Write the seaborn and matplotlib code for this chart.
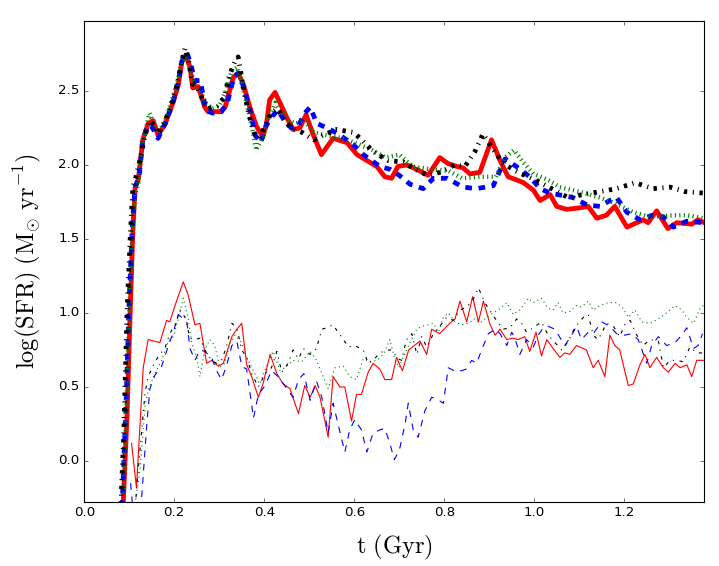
import matplotlib
matplotlib.use("Agg")
import matplotlib.pyplot as plt
import seaborn as sns
import numpy as np

# ---------------- data ----------------
t_red_thick = [0.085, 0.095, 0.102, 0.108, 0.113, 0.120, 0.130, 0.142, 0.153, 0.164, 0.180, 0.197, 0.209, 0.217, 0.226, 0.235, 0.241, 0.253, 0.268, 0.275, 0.302, 0.313, 0.331, 0.342, 0.353, 0.368, 0.383, 0.397, 0.405, 0.412, 0.424, 0.435, 0.450, 0.464, 0.479, 0.493, 0.508, 0.527, 0.553, 0.584, 0.606, 0.628, 0.650, 0.668, 0.683, 0.697, 0.717, 0.739, 0.764, 0.790, 0.808, 0.828, 0.842, 0.857, 0.879, 0.905, 0.924, 0.942, 0.960, 0.976, 0.998, 1.013, 1.035, 1.050, 1.072, 1.100, 1.120, 1.139, 1.160, 1.179, 1.206, 1.228, 1.242, 1.253, 1.272, 1.297, 1.317, 1.350, 1.364, 1.378]
v_red_thick = [-0.40, 0.30, 1.00, 1.55, 1.85, 1.90, 2.17, 2.28, 2.30, 2.20, 2.28, 2.42, 2.54, 2.70, 2.74, 2.66, 2.52, 2.53, 2.39, 2.36, 2.36, 2.39, 2.59, 2.62, 2.55, 2.39, 2.26, 2.19, 2.28, 2.44, 2.49, 2.42, 2.32, 2.24, 2.25, 2.34, 2.21, 2.07, 2.18, 2.15, 2.07, 2.03, 1.99, 1.92, 1.91, 1.99, 2.00, 1.97, 1.93, 2.05, 2.01, 1.99, 1.98, 1.94, 1.95, 2.17, 2.03, 1.92, 1.90, 1.88, 1.83, 1.76, 1.80, 1.72, 1.70, 1.71, 1.72, 1.64, 1.66, 1.72, 1.58, 1.61, 1.63, 1.61, 1.69, 1.57, 1.61, 1.60, 1.63, 1.61]

t_blue_thick = [0.083, 0.093, 0.100, 0.107, 0.113, 0.122, 0.130, 0.142, 0.150, 0.164, 0.180, 0.197, 0.209, 0.217, 0.228, 0.237, 0.245, 0.258, 0.270, 0.285, 0.305, 0.318, 0.333, 0.343, 0.355, 0.368, 0.380, 0.392, 0.405, 0.418, 0.430, 0.445, 0.460, 0.475, 0.490, 0.502, 0.517, 0.540, 0.564, 0.597, 0.620, 0.657, 0.680, 0.700, 0.724, 0.753, 0.776, 0.806, 0.842, 0.872, 0.909, 0.935, 0.960, 0.990, 1.013, 1.035, 1.086, 1.117, 1.146, 1.168, 1.183, 1.206, 1.235, 1.262, 1.287, 1.309, 1.339, 1.376]
v_blue_thick = [-0.40, 0.40, 1.10, 1.60, 1.85, 1.92, 2.17, 2.27, 2.26, 2.18, 2.28, 2.42, 2.56, 2.70, 2.76, 2.68, 2.57, 2.57, 2.37, 2.35, 2.36, 2.42, 2.60, 2.62, 2.52, 2.37, 2.20, 2.15, 2.27, 2.33, 2.37, 2.30, 2.25, 2.26, 2.35, 2.39, 2.28, 2.25, 2.21, 2.14, 2.07, 1.99, 1.97, 1.93, 1.87, 1.84, 1.91, 1.91, 1.85, 1.84, 1.86, 2.04, 1.99, 1.92, 1.84, 1.81, 1.78, 1.73, 1.72, 1.76, 1.78, 1.68, 1.63, 1.66, 1.65, 1.58, 1.62, 1.61]

t_black_thick = [0.080, 0.088, 0.095, 0.102, 0.108, 0.115, 0.125, 0.135, 0.145, 0.155, 0.165, 0.180, 0.195, 0.207, 0.215, 0.224, 0.232, 0.240, 0.250, 0.262, 0.275, 0.295, 0.310, 0.322, 0.335, 0.342, 0.352, 0.365, 0.377, 0.388, 0.400, 0.415, 0.430, 0.445, 0.460, 0.484, 0.510, 0.530, 0.561, 0.598, 0.617, 0.642, 0.675, 0.709, 0.735, 0.764, 0.790, 0.823, 0.846, 0.868, 0.886, 0.905, 0.931, 0.964, 1.002, 1.039, 1.075, 1.108, 1.146, 1.183, 1.224, 1.264, 1.302, 1.335, 1.376]
v_black_thick = [-0.40, 0.20, 1.00, 1.50, 1.85, 1.92, 2.05, 2.20, 2.30, 2.27, 2.21, 2.30, 2.42, 2.55, 2.68, 2.79, 2.70, 2.55, 2.53, 2.45, 2.38, 2.40, 2.45, 2.60, 2.70, 2.73, 2.55, 2.35, 2.22, 2.18, 2.25, 2.35, 2.38, 2.30, 2.25, 2.22, 2.17, 2.20, 2.24, 2.22, 2.17, 2.09, 2.03, 2.02, 1.97, 1.93, 1.95, 2.00, 1.99, 2.09, 2.21, 2.12, 2.01, 1.95, 1.90, 1.84, 1.78, 1.80, 1.82, 1.84, 1.88, 1.84, 1.85, 1.82, 1.81]

t_green_thick = [0.085, 0.093, 0.100, 0.107, 0.113, 0.120, 0.130, 0.145, 0.155, 0.165, 0.180, 0.195, 0.207, 0.215, 0.225, 0.235, 0.245, 0.258, 0.270, 0.285, 0.300, 0.315, 0.328, 0.340, 0.350, 0.362, 0.373, 0.382, 0.395, 0.410, 0.425, 0.440, 0.455, 0.470, 0.490, 0.510, 0.540, 0.575, 0.610, 0.640, 0.670, 0.700, 0.730, 0.770, 0.810, 0.840, 0.880, 0.915, 0.935, 0.955, 0.975, 0.998, 1.030, 1.057, 1.100, 1.146, 1.180, 1.220, 1.257, 1.310, 1.340, 1.376]
v_green_thick = [-0.40, 0.30, 1.00, 1.55, 1.80, 1.88, 2.15, 2.35, 2.28, 2.22, 2.30, 2.44, 2.56, 2.68, 2.74, 2.65, 2.55, 2.50, 2.42, 2.38, 2.40, 2.50, 2.64, 2.66, 2.55, 2.40, 2.25, 2.10, 2.18, 2.32, 2.42, 2.35, 2.30, 2.28, 2.30, 2.22, 2.20, 2.18, 2.14, 2.10, 2.05, 2.07, 1.99, 1.97, 1.96, 1.91, 1.92, 1.92, 2.05, 2.10, 2.02, 1.94, 1.90, 1.85, 1.82, 1.78, 1.74, 1.68, 1.65, 1.66, 1.66, 1.64]

t_red_thin = [0.105, 0.116, 0.131, 0.142, 0.168, 0.183, 0.190, 0.205, 0.220, 0.231, 0.246, 0.257, 0.272, 0.283, 0.298, 0.309, 0.328, 0.339, 0.350, 0.361, 0.372, 0.387, 0.398, 0.413, 0.428, 0.442, 0.457, 0.476, 0.490, 0.502, 0.513, 0.524, 0.542, 0.553, 0.568, 0.579, 0.594, 0.605, 0.616, 0.631, 0.642, 0.657, 0.668, 0.683, 0.694, 0.707, 0.721, 0.746, 0.761, 0.772, 0.790, 0.812, 0.824, 0.835, 0.850, 0.863, 0.876, 0.887, 0.902, 0.913, 0.924, 0.939, 0.953, 0.964, 0.979, 0.990, 1.004, 1.016, 1.028, 1.042, 1.057, 1.068, 1.079, 1.094, 1.116, 1.131, 1.142, 1.157, 1.168, 1.179, 1.190, 1.209, 1.220, 1.235, 1.246, 1.257, 1.272, 1.287, 1.298, 1.313, 1.324, 1.339, 1.350, 1.361, 1.376]
v_red_thin = [0.12, -0.18, 0.63, 0.82, 0.80, 0.95, 0.94, 1.08, 1.21, 1.12, 0.92, 0.93, 0.66, 0.68, 0.64, 0.66, 0.84, 0.89, 0.93, 0.65, 0.57, 0.43, 0.53, 0.72, 0.59, 0.52, 0.49, 0.32, 0.51, 0.43, 0.51, 0.43, 0.16, 0.57, 0.50, 0.50, 0.27, 0.45, 0.45, 0.60, 0.66, 0.62, 0.55, 0.55, 0.70, 0.61, 0.75, 0.81, 0.72, 0.89, 0.86, 0.93, 0.96, 1.08, 0.94, 1.11, 0.94, 1.08, 0.92, 0.85, 0.89, 0.82, 0.83, 0.82, 0.84, 0.74, 0.87, 0.71, 0.82, 0.76, 0.70, 0.73, 0.72, 0.78, 0.75, 0.63, 0.68, 0.57, 0.85, 0.78, 0.75, 0.51, 0.52, 0.65, 0.72, 0.63, 0.70, 0.63, 0.60, 0.66, 0.63, 0.65, 0.57, 0.68, 0.68]

t_blue_thin = [0.103, 0.110, 0.124, 0.139, 0.146, 0.157, 0.172, 0.187, 0.198, 0.209, 0.220, 0.228, 0.235, 0.246, 0.257, 0.268, 0.283, 0.294, 0.305, 0.316, 0.328, 0.339, 0.350, 0.361, 0.376, 0.387, 0.402, 0.416, 0.431, 0.450, 0.464, 0.476, 0.488, 0.502, 0.516, 0.528, 0.542, 0.553, 0.564, 0.579, 0.590, 0.601, 0.616, 0.628, 0.642, 0.657, 0.668, 0.679, 0.689, 0.700, 0.713, 0.720, 0.731, 0.742, 0.757, 0.772, 0.783, 0.798, 0.809, 0.828, 0.848, 0.861, 0.872, 0.883, 0.898, 0.913, 0.924, 0.939, 0.950, 0.957, 0.968, 0.983, 0.998, 1.009, 1.020, 1.031, 1.046, 1.068, 1.083, 1.094, 1.105, 1.120, 1.131, 1.150, 1.168, 1.183, 1.201, 1.216, 1.231, 1.250, 1.261, 1.276, 1.294, 1.313, 1.328, 1.339, 1.354, 1.364, 1.374]
v_blue_thin = [-0.15, -0.40, -0.40, 0.25, 0.49, 0.58, 0.64, 0.78, 0.87, 0.99, 0.96, 0.94, 0.76, 0.68, 0.75, 0.74, 0.70, 0.61, 0.55, 0.64, 0.78, 0.81, 0.64, 0.62, 0.29, 0.45, 0.51, 0.61, 0.57, 0.49, 0.43, 0.55, 0.59, 0.41, 0.54, 0.43, 0.19, 0.39, 0.25, 0.06, 0.21, 0.28, 0.21, 0.06, 0.19, 0.21, 0.22, 0.12, 0.01, 0.07, 0.25, 0.39, 0.21, 0.16, 0.34, 0.43, 0.42, 0.39, 0.63, 0.60, 0.62, 0.68, 0.66, 0.75, 0.86, 0.89, 0.86, 0.78, 0.87, 0.83, 0.72, 0.82, 0.77, 0.85, 0.90, 0.91, 0.89, 0.78, 0.85, 0.91, 0.82, 0.87, 0.86, 0.94, 0.91, 0.86, 0.85, 0.86, 0.82, 0.66, 0.78, 0.84, 0.78, 0.80, 0.85, 0.90, 0.76, 0.78, 0.86]

t_black_thin = [0.112, 0.120, 0.135, 0.142, 0.157, 0.168, 0.179, 0.190, 0.202, 0.213, 0.224, 0.235, 0.246, 0.257, 0.268, 0.283, 0.294, 0.305, 0.316, 0.328, 0.339, 0.350, 0.361, 0.372, 0.387, 0.402, 0.416, 0.428, 0.439, 0.453, 0.464, 0.476, 0.487, 0.502, 0.516, 0.528, 0.539, 0.553, 0.564, 0.576, 0.587, 0.601, 0.620, 0.631, 0.642, 0.657, 0.672, 0.683, 0.698, 0.705, 0.716, 0.728, 0.739, 0.750, 0.761, 0.776, 0.790, 0.805, 0.820, 0.835, 0.850, 0.864, 0.876, 0.890, 0.905, 0.916, 0.931, 0.946, 0.961, 0.972, 0.983, 0.998, 1.016, 1.031, 1.046, 1.061, 1.076, 1.090, 1.109, 1.120, 1.131, 1.142, 1.161, 1.176, 1.190, 1.201, 1.213, 1.228, 1.242, 1.257, 1.276, 1.287, 1.302, 1.317, 1.331, 1.346, 1.361, 1.374]
v_black_thin = [-0.35, -0.06, 0.46, 0.57, 0.67, 0.72, 0.76, 0.86, 0.92, 1.02, 0.97, 0.83, 0.82, 0.83, 0.75, 0.68, 0.66, 0.68, 0.77, 0.93, 0.90, 0.75, 0.70, 0.59, 0.50, 0.59, 0.63, 0.74, 0.60, 0.66, 0.75, 0.69, 0.76, 0.72, 0.76, 0.89, 0.90, 0.92, 0.87, 0.82, 0.77, 0.78, 0.75, 0.66, 0.68, 0.73, 0.75, 0.75, 0.69, 0.68, 0.82, 0.86, 0.72, 0.84, 0.77, 0.86, 0.91, 0.97, 0.95, 1.02, 1.04, 1.09, 1.17, 1.07, 1.00, 0.95, 0.89, 0.90, 0.96, 0.93, 0.87, 0.90, 0.94, 0.85, 0.80, 0.75, 0.81, 0.90, 0.97, 0.99, 0.85, 0.82, 0.93, 0.91, 0.84, 0.92, 0.95, 0.85, 0.78, 0.82, 0.81, 0.63, 0.68, 0.68, 0.67, 0.77, 0.73, 0.73]

t_green_thin = [0.110, 0.124, 0.135, 0.142, 0.157, 0.172, 0.187, 0.198, 0.209, 0.220, 0.231, 0.239, 0.250, 0.257, 0.268, 0.279, 0.290, 0.301, 0.313, 0.324, 0.335, 0.350, 0.361, 0.376, 0.390, 0.405, 0.420, 0.435, 0.450, 0.464, 0.483, 0.502, 0.516, 0.531, 0.542, 0.557, 0.576, 0.590, 0.605, 0.620, 0.635, 0.650, 0.665, 0.679, 0.690, 0.699, 0.709, 0.724, 0.739, 0.750, 0.764, 0.776, 0.787, 0.798, 0.809, 0.824, 0.839, 0.853, 0.868, 0.879, 0.894, 0.909, 0.924, 0.939, 0.953, 0.968, 0.987, 0.998, 1.016, 1.031, 1.042, 1.053, 1.064, 1.079, 1.094, 1.105, 1.120, 1.131, 1.146, 1.164, 1.183, 1.198, 1.209, 1.224, 1.239, 1.257, 1.276, 1.294, 1.313, 1.328, 1.339, 1.354, 1.370, 1.376]
v_green_thin = [-0.35, -0.06, 0.37, 0.48, 0.59, 0.68, 0.81, 0.84, 0.96, 1.10, 0.96, 0.80, 0.70, 0.57, 0.75, 0.82, 0.78, 0.63, 0.66, 0.80, 0.85, 0.80, 0.70, 0.61, 0.52, 0.64, 0.74, 0.61, 0.64, 0.68, 0.67, 0.74, 0.68, 0.57, 0.49, 0.63, 0.64, 0.57, 0.55, 0.69, 0.67, 0.68, 0.72, 0.82, 0.69, 0.63, 0.70, 0.80, 0.89, 0.91, 0.92, 0.93, 0.87, 0.97, 1.00, 0.94, 0.92, 0.93, 0.96, 0.93, 0.97, 1.00, 1.03, 1.07, 0.99, 1.02, 1.10, 1.07, 1.10, 1.03, 1.02, 1.07, 1.00, 1.01, 1.05, 1.04, 1.08, 1.02, 1.05, 1.07, 1.07, 1.03, 0.97, 1.02, 0.94, 0.93, 0.96, 1.00, 1.05, 1.02, 0.97, 0.93, 1.04, 1.05]

x_ticks = [0.0, 0.2, 0.4, 0.6, 0.8, 1.0, 1.2]
y_ticks = [0.0, 0.5, 1.0, 1.5, 2.0, 2.5]
x_label = r'$\mathrm{t\ (Gyr)}$'
y_label = r'$\log(\mathrm{SFR})\ (\mathrm{M}_{\odot}\ \mathrm{yr}^{-1})$'

# ---------------- style ----------------
plt.style.use('classic')
plt.rcParams['mathtext.fontset'] = 'cm'
plt.rcParams['lines.scale_dashes'] = False
plt.rcParams['font.family'] = ['DejaVu Sans']

DPI = 80
fig = plt.figure(figsize=(719 / DPI, 566 / DPI), dpi=DPI, facecolor='white')
ax = fig.add_axes([0.1172, 0.1131, 0.8624, 0.8499])

series = [
    (t_red_thick, v_red_thick, 'red', '-', 4.3),
    (t_blue_thick, v_blue_thick, 'blue', '--', 4.3),
    (t_green_thick, v_green_thick, 'green', ':', 4.0),
    (t_black_thick, v_black_thick, 'black', '-.', 4.3),
    (t_red_thin, v_red_thin, 'red', '-', 1.0),
    (t_blue_thin, v_blue_thin, 'blue', '--', 1.0),
    (t_green_thin, v_green_thin, 'green', ':', 1.0),
    (t_black_thin, v_black_thin, 'black', '-.', 1.0),
]
for t, v, c, ls, lw in series:
    sns.lineplot(x=np.array(t), y=np.array(v), ax=ax, color=c, linestyle=ls,
                 linewidth=lw, estimator=None, sort=False, legend=False)

ax.set_xlim(0.0, 1.378)
ax.set_ylim(-0.277, 2.973)
ax.set_xticks(x_ticks)
ax.set_yticks(y_ticks)
ax.tick_params(labelsize=12)
ax.set_xlabel(x_label, fontsize=22, labelpad=12)
ax.set_ylabel(y_label, fontsize=22, labelpad=14)

fig.savefig('out.png', dpi=DPI, facecolor='white')
